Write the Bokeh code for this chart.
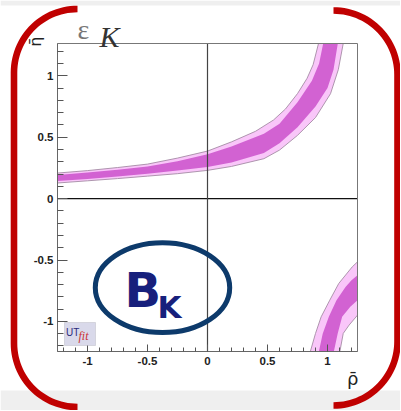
import numpy as np
from bokeh.plotting import figure
from bokeh.models import Range1d, SingleIntervalTicker, Label, PolyAnnotation, LinearAxis
from bokeh.embed import file_html
from bokeh.resources import INLINE

# ---------------- data ----------------
rho_range = (-1.25, 1.25)
eta_range = (-1.245, 1.263)

# upper branch of the epsilon_K band: (rho, eta) boundary points
up_outer_top_rho = [-1.25, -1.00, -0.75, -0.50, -0.25, 0.00, 0.20, 0.40, 0.55, 0.65, 0.75, 0.83, 0.88, 0.925]
up_outer_top_eta = [0.208, 0.228, 0.253, 0.281, 0.330, 0.387, 0.462, 0.548, 0.640, 0.730, 0.855, 0.980, 1.090, 1.263]
up_outer_bot_rho = [-1.25, -1.00, -0.75, -0.50, -0.25, 0.00, 0.20, 0.47, 0.60, 0.75, 0.90, 1.025, 1.09, 1.131]
up_outer_bot_eta = [0.127, 0.145, 0.163, 0.183, 0.203, 0.230, 0.262, 0.325, 0.395, 0.515, 0.660, 0.854, 1.050, 1.263]
up_inner_top_rho = [-1.25, -1.00, -0.75, -0.50, -0.25, 0.00, 0.20, 0.47, 0.60, 0.75, 0.87, 0.93, 0.964]
up_inner_top_eta = [0.193, 0.212, 0.234, 0.262, 0.305, 0.362, 0.425, 0.528, 0.610, 0.785, 0.960, 1.100, 1.263]
up_inner_bot_rho = [-1.25, -1.00, -0.75, -0.50, -0.25, 0.00, 0.20, 0.47, 0.60, 0.75, 0.90, 1.00, 1.05, 1.086]
up_inner_bot_eta = [0.143, 0.160, 0.180, 0.203, 0.228, 0.257, 0.295, 0.371, 0.450, 0.582, 0.750, 0.900, 1.050, 1.263]

# lower branch
lo_outer_top_rho = [0.857, 0.900, 0.947, 1.019, 1.094, 1.206, 1.250]
lo_outer_top_eta = [-1.245, -1.098, -0.963, -0.827, -0.691, -0.556, -0.515]
lo_outer_bot_rho = [1.103, 1.131, 1.180, 1.250]
lo_outer_bot_eta = [-1.245, -1.098, -1.030, -0.949]
lo_inner_top_rho = [0.928, 0.960, 1.011, 1.075, 1.150, 1.200, 1.250]
lo_inner_top_eta = [-1.245, -1.100, -0.963, -0.827, -0.720, -0.665, -0.624]
lo_inner_bot_rho = [1.053, 1.085, 1.122, 1.190, 1.250]
lo_inner_bot_eta = [-1.245, -1.098, -0.963, -0.880, -0.827]

x_ticks = [-1, -0.5, 0, 0.5, 1]
x_tick_labels = ["-1", "-0.5", "0", "0.5", "1"]
y_ticks = [-1, -0.5, 0, 0.5, 1]
y_tick_labels = ["-1", "-0.5", "0", "0.5", "1"]

# ---------------- styling / layout constants ----------------
LIGHT = "#f9c6f9"
DARK = "#d262d2"
EDGE = "#a58ca5"
RED = "#c00000"
NAVY = "#0d3a6b"

W, H = 400, 410
BOX_L, BOX_R, BOX_T, BOX_B = 57, 357, 43, 351   # pixel box of the plot area

xpp = (BOX_R - BOX_L) / (rho_range[1] - rho_range[0])
ypp = (BOX_B - BOX_T) / (eta_range[1] - eta_range[0])
x0 = rho_range[0] - BOX_L / xpp
x1 = rho_range[1] + (W - BOX_R) / xpp
y1 = eta_range[1] + BOX_T / ypp
y0 = eta_range[0] - (H - BOX_B) / ypp


def sx(X):
    return X


def sy(Y):
    return H - Y


p = figure(width=W, height=H, output_backend="svg", toolbar_location=None,
           x_range=Range1d(x0, x1), y_range=Range1d(y0, y1),
           x_axis_location=None, y_axis_location=None, min_border=0)
p.xgrid.visible = False
p.ygrid.visible = False
p.outline_line_color = None
p.background_fill_color = "white"
p.border_fill_color = "white"

# slide decorations: grey strips
for (ya, yb) in ((0, 5), (390, 411)):
    p.add_layout(PolyAnnotation(xs=[sx(0), sx(W), sx(W), sx(0)], ys=[sy(ya), sy(ya), sy(yb), sy(yb)],
                                xs_units="screen", ys_units="screen",
                                fill_color="#efefef", fill_alpha=1, line_alpha=0, level="underlay"))


def band(top_r, top_e, bot_r, bot_e):
    return list(top_r) + list(bot_r[::-1]), list(top_e) + list(bot_e[::-1])


xs_o, ys_o = band(up_outer_top_rho, up_outer_top_eta, up_outer_bot_rho, up_outer_bot_eta)
xs_i, ys_i = band(up_inner_top_rho, up_inner_top_eta, up_inner_bot_rho, up_inner_bot_eta)
xl_o, yl_o = band(lo_outer_top_rho, lo_outer_top_eta, lo_outer_bot_rho, lo_outer_bot_eta)
xl_i, yl_i = band(lo_inner_top_rho, lo_inner_top_eta, lo_inner_bot_rho, lo_inner_bot_eta)

p.patches([xs_o, xl_o], [ys_o, yl_o], fill_color=LIGHT, line_color=None)
p.patches([xs_i, xl_i], [ys_i, yl_i], fill_color=DARK, line_color=None)
p.multi_line([up_outer_top_rho, up_outer_bot_rho, lo_outer_top_rho, lo_outer_bot_rho],
             [up_outer_top_eta, up_outer_bot_eta, lo_outer_top_eta, lo_outer_bot_eta],
             line_color=EDGE, line_width=0.9)

# zero lines and box
p.segment(x0=[rho_range[0]], y0=[0], x1=[rho_range[1]], y1=[0], line_color="#111111", line_width=1.2)
p.segment(x0=[0], y0=[eta_range[0]], x1=[0], y1=[eta_range[1]], line_color="#444444", line_width=1.2)
p.quad(left=[rho_range[0]], right=[rho_range[1]], bottom=[eta_range[0]], top=[eta_range[1]],
       fill_color=None, line_color="#777777", line_width=1)

# axes fixed at the plot-area edges
xax = LinearAxis(fixed_location=eta_range[0], bounds=rho_range)
yax = LinearAxis(fixed_location=rho_range[0], bounds=eta_range)
p.add_layout(xax, "below")
p.add_layout(yax, "left")
for ax, tin, mtin in ((xax, 7, 4), (yax, 10, 6)):
    ax.ticker = SingleIntervalTicker(interval=0.5, num_minor_ticks=5)
    ax.major_tick_in = tin
    ax.major_tick_out = 0
    ax.minor_tick_in = mtin
    ax.minor_tick_out = 0
    ax.axis_line_color = "#666666"
    ax.major_tick_line_color = "#555555"
    ax.minor_tick_line_color = "#555555"
    ax.major_label_text_font = "Liberation Sans"
    ax.major_label_text_font_style = "bold"
    ax.major_label_text_font_size = "11.5px"
    ax.major_label_text_color = "#222222"
xax.major_label_overrides = {t: l for t, l in zip(x_ticks, x_tick_labels)}
yax.major_label_overrides = {t: l for t, l in zip(y_ticks, y_tick_labels)}
yax.major_label_standoff = 4

# B_K ellipse (overlay decoration)
ell_rho, ell_eta, ell_w, ell_h = -0.375, -0.725, 1.12, 0.73
p.ellipse(x=[ell_rho], y=[ell_eta], width=[ell_w], height=[ell_h],
          fill_color=None, line_color=NAVY, line_width=5)

SHIFT = 0.37  # compensation of the rendered alphabetic baseline, in em


def lab(X, Y, text, size, **kw):
    """Place text so that its baseline lands on pixel row Y."""
    ang = kw.get("angle", 0)
    if ang:
        X = X - SHIFT * size
    else:
        Y = Y - SHIFT * size
    p.add_layout(Label(x=sx(X), y=sy(Y), x_units="screen", y_units="screen", text=text,
                       text_baseline="alphabetic", text_font_size=f"{size}px", **kw))


lab(124, 307, "B", 48, text_font="DejaVu Sans", text_font_style="bold", text_color="#17207c")
lab(157, 318, "K", 31, text_font="DejaVu Sans", text_font_style="bold", text_color="#17207c")

# title epsilon_K
lab(77, 39, "\u03b5", 28, text_font="Liberation Serif", text_color="#777777")
lab(99, 47, "K", 30, text_font="Liberation Serif", text_font_style="italic", text_color="#333333")

# axis labels
lab(41, 36, "\u03b7\u0304", 16, angle=np.pi / 2, text_align="right",
    text_font="DejaVu Sans", text_color="#222222")
lab(358, 385, "\u03c1\u0304", 18, text_align="right",
    text_font="DejaVu Sans", text_color="#222222")

# UTfit logo
p.add_layout(PolyAnnotation(xs=[sx(64), sx(95), sx(95), sx(64)], ys=[sy(322), sy(322), sy(345), sy(345)],
                            xs_units="screen", ys_units="screen",
                            fill_color="#d9d9ea", fill_alpha=1, line_color="#9a9aaa", line_width=1))
lab(65.5, 336, "UT", 10, text_font="Liberation Sans", text_color="#2a2a7a")
lab(78, 340, "fit", 12, text_font="Liberation Serif", text_font_style="italic", text_color="#cc3333")


def bracket(cx, top_cy, bot_cy, r, hw, side):
    t1 = np.linspace(np.pi / 2, np.pi, 30)
    t2 = np.linspace(np.pi, 1.5 * np.pi, 30)

    def path(rr):
        X = np.concatenate([cx + side * rr * np.cos(t1), cx + side * rr * np.cos(t2)])
        Y = np.concatenate([top_cy - rr * np.sin(t1), bot_cy - rr * np.sin(t2)])
        return X, Y
    Xo, Yo = path(r + hw)
    Xi, Yi = path(r - hw)
    X = np.concatenate([Xo, Xi[::-1]])
    Y = np.concatenate([Yo, Yi[::-1]])
    return [float(sx(v)) for v in X], [float(sy(v)) for v in Y]


for args in ((77, 72, 343, 63.5, 3.3, 1), (333, 74, 341, 64, 3.3, -1)):
    bx, by = bracket(*args)
    p.add_layout(PolyAnnotation(xs=bx, ys=by, xs_units="screen", ys_units="screen",
                                fill_color=RED, fill_alpha=1, line_alpha=0))

open("out.html", "w").write(file_html(p, INLINE))
